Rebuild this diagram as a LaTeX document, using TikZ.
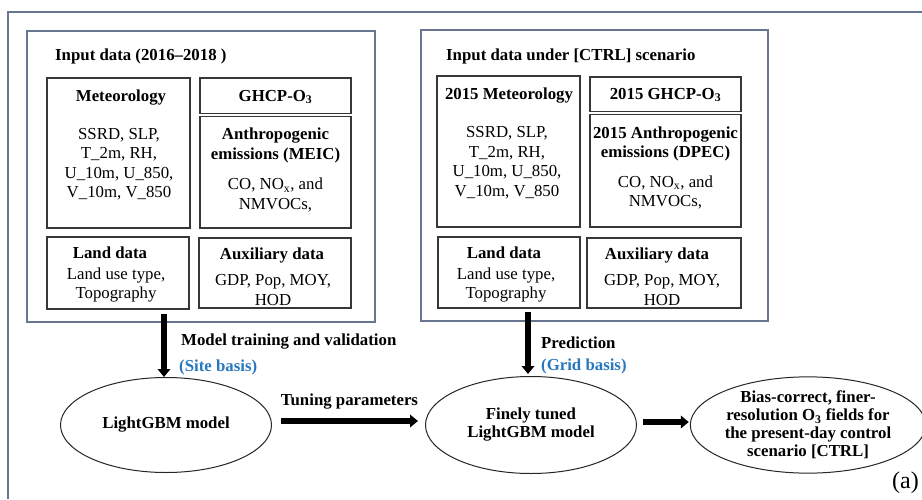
\documentclass[tikz,border=0pt]{standalone}
\usepackage{fontspec}
\setmainfont{Liberation Serif}
\usetikzlibrary{shapes.geometric,arrows.meta,fit}

\definecolor{framecol}{RGB}{104,118,146}
\definecolor{boxcol}{RGB}{55,55,55}
\definecolor{basisblue}{RGB}{40,120,190}

\newcommand{\fs}{\fontsize{16.8}{19.5}\selectfont}
\newcommand{\fsell}{\fontsize{16.8}{18}\selectfont}

\tikzset{
  frameline/.style={draw=framecol, line width=1.5pt},
  groupbox/.style={draw=framecol, line width=1.4pt, inner sep=0pt},
  databox/.style={draw=boxcol, line width=1.1pt, inner sep=0pt},
  txt/.style={font=\fs, align=center, inner sep=0pt},
  btxt/.style={font=\fs\bfseries, align=center, inner sep=0pt},
  modelnode/.style={ellipse, draw=black!85, line width=1pt, font=\fsell\bfseries,
    align=center, inner sep=0pt},
  bigarrow/.style={line width=5.8pt, -{Triangle[length=8pt,width=12.5pt]}},
}

\begin{document}
\begin{tikzpicture}[x=1pt, y=-1pt]
\useasboundingbox (0,0) rectangle (922,499);
\fill[white] (0,0) rectangle (922,499);

% enclosing frame (runs past the right and bottom edges)
\draw[frameline] (922,12) -- (8,12) -- (8,499);

% input groups
\node[groupbox, fit={(27,31) (375,322)}] (inL) {};
\node[groupbox, fit={(421,30) (768,321)}] (inR) {};
\node[btxt, anchor=west] (titleL) at (55,56) {Input data (2016–2018 )};
\node[btxt, anchor=west] (titleR) at (446,56) {Input data under [CTRL] scenario};

% data boxes, 2016-2018
\node[databox, fit={(47,78) (190,228)}] (metL) {};
\node[databox, fit={(200,78) (351,113.5)}] (ghcpL) {};
\node[databox, fit={(200,116.5) (351,228)}] (anthL) {};
\node[databox, fit={(47,237) (189,309)}] (landL) {};
\node[databox, fit={(199,238) (351,308)}] (auxL) {};

\node[btxt] (metLt) at (121,98) {Meteorology};
\node[txt] (metLb) at (119,164) {SSRD, SLP,\\T\_2m, RH,\\U\_10m, U\_850,\\V\_10m, V\_850};
\node[btxt] (ghcpLt) at (275.5,97) {GHCP-O\textsubscript{3}};
\node[btxt] (anthLt) at (275.5,145.5) {Anthropogenic\\emissions (MEIC)};
\node[txt] (anthLb) at (275.5,195) {CO, NO\textsubscript{x}, and\\NMVOCs,};
\node[btxt] (landLt) at (110,253) {Land data};
\node[txt] (landLb) at (116,285) {Land use type,\\Topography};
\node[btxt] (auxLt) at (272,255) {Auxiliary data};
\node[txt] (auxLb) at (273,290) {GDP, Pop, MOY,\\HOD};

% data boxes, CTRL scenario
\node[databox, fit={(437,76) (580,227)}] (metR) {};
\node[databox, fit={(590,77) (741,111.5)}] (ghcpR) {};
\node[databox, fit={(590,114.5) (741,227)}] (anthR) {};
\node[databox, fit={(438,237) (580,308)}] (landR) {};
\node[databox, fit={(587,238) (741,308)}] (auxR) {};

\node[btxt] (metRt) at (509,96) {2015 Meteorology};
\node[txt] (metRb) at (507,162.5) {SSRD, SLP,\\T\_2m, RH,\\U\_10m, U\_850,\\V\_10m, V\_850};
\node[btxt] (ghcpRt) at (665.5,95) {2015 GHCP-O\textsubscript{3}};
\node[btxt] (anthRt) at (665.5,144) {2015 Anthropogenic\\emissions (DPEC)};
\node[txt] (anthRb) at (665.5,192.5) {CO, NO\textsubscript{x}, and\\NMVOCs,};
\node[btxt] (landRt) at (504,253) {Land data};
\node[txt] (landRb) at (506,285) {Land use type,\\Topography};
\node[btxt] (auxRt) at (657,255) {Auxiliary data};
\node[txt] (auxRb) at (662,290) {GDP, Pop, MOY,\\HOD};

% models and output
\node[modelnode, minimum width=211pt, minimum height=95pt] (lgbm) at (166,425) {LightGBM model};
\node[modelnode, minimum width=211pt, minimum height=97pt] (fine) at (531,425) {Finely tuned\\LightGBM model};
\node[modelnode, minimum width=220pt, minimum height=95pt] (out) at (808,425)
  {Bias-correct, finer-\\resolution O\textsubscript{3} fields for\\the present-day control\\scenario [CTRL]};

% connectors (shifts are in page units: positive yshift moves up)
\draw[bigarrow] ([xshift=-2pt,yshift=-4pt]landL.south -| lgbm.north) -- ([xshift=-2pt]lgbm.north);
\draw[bigarrow] ([xshift=-3pt,yshift=-3pt]landR.south -| fine.north) -- ([xshift=-3pt,yshift=2pt]fine.north);
\draw[bigarrow] ([xshift=9pt,yshift=4pt]lgbm.east) -- ([xshift=-7pt,yshift=4pt]fine.west);
\draw[bigarrow] ([xshift=6pt,yshift=3pt]fine.east) -- ([xshift=-1pt,yshift=3pt]out.west);

% connector labels
\node[btxt, anchor=west] (trainlbl) at (181,342) {Model training and validation};
\node[btxt, anchor=west, text=basisblue] (sitelbl) at (179,367) {(Site basis)};
\node[btxt] (tunelbl) at (349.5,402) {Tuning parameters};
\node[btxt, anchor=west] (predlbl) at (541,343) {Prediction};
\node[btxt, anchor=west, text=basisblue] (gridlbl) at (541,366) {(Grid basis)};

\node[font=\fontsize{24}{26}\selectfont, inner sep=0pt, anchor=east] (panel) at (919,483) {(a)};
\end{tikzpicture}
\end{document}
